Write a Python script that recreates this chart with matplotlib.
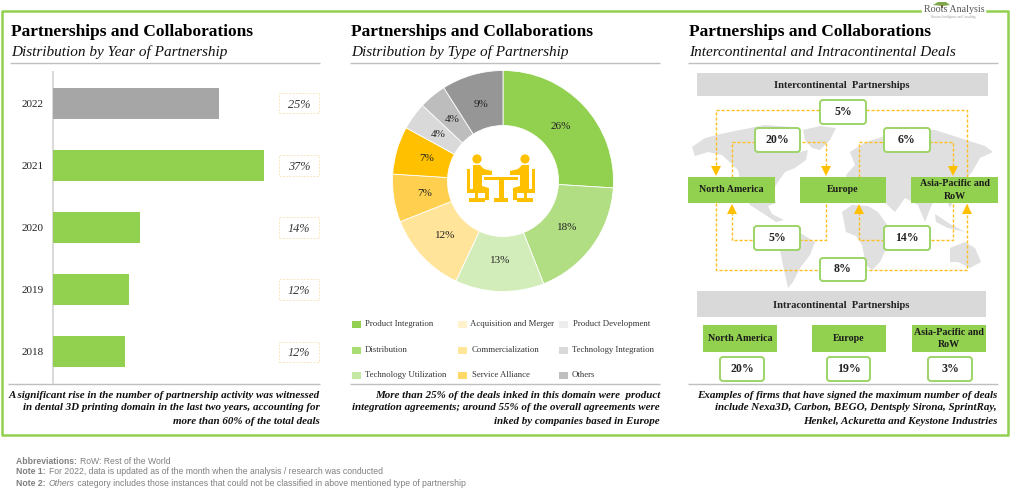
import matplotlib
matplotlib.use('Agg')
import matplotlib.pyplot as plt
from matplotlib.patches import Rectangle, FancyBboxPatch, Polygon, Circle

W, H = 1024, 493
SERIF = 'Liberation Serif'
GREEN = '#92D050'
ORANGE = '#FFC000'

# Bar chart data (bars were not drawn to the same scale as their labels)
years = ['2018', '2019', '2020', '2021', '2022']
year_bars = [12.6, 13.3, 15.3, 37, 29.1]
year_labels = ['12%', '12%', '14%', '37%', '25%']
year_colors = [GREEN, GREEN, GREEN, GREEN, '#A6A6A6']

# Donut data, clockwise from the top
deal_types = ['Product Integration', 'Distribution', 'Technology Utilization',
              'Acquisition and Merger', 'Commercialization', 'Service Alliance',
              'Product Development', 'Technology Integration', 'Others']
deal_shares = [26, 18, 13, 12, 7, 7, 4, 4, 9]
deal_colors = ['#92D050', '#B1DE82', '#D3EDBA', '#FFE49A', '#FFD04F', '#FFC000',
               '#D9D9D9', '#BDBDBD', '#969696']
legend_colors = ['#92D050', '#A9DC72', '#C5E8A4', '#FFF2CC', '#FFE699', '#FFD966',
                 '#EDEDED', '#D9D9D9', '#BFBFBF']

# Deal flow panel
inter_labels = ['5%', '20%', '6%', '5%', '14%', '8%']
regions = ['North America', 'Europe', 'Asia-Pacific and\nRoW']
intra_labels = ['20%', '19%', '3%']

titles = ['Distribution by Year of Partnership', 'Distribution by Type of Partnership',
          'Intercontinental and Intracontinental Deals']
captions = [
    ['A significant rise in the number of partnership activity was witnessed',
     'in dental 3D printing domain in the last two years, accounting for',
     'more than 60% of the total deals'],
    ['More than 25% of the deals inked in this domain were  product',
     'integration agreements; around 55% of the overall agreements were',
     'inked by companies based in Europe'],
    ['Examples of firms that have signed the maximum number of deals',
     'include Nexa3D, Carbon, BEGO, Dentsply Sirona, SprintRay,',
     'Henkel, Ackuretta and Keystone Industries'],
]

fig = plt.figure(figsize=(W / 100, H / 100), dpi=100, facecolor='white')

# Overlay in pixel coordinates for all the slide furniture
bg = fig.add_axes([0, 0, 1, 1])
bg.set_xlim(0, W)
bg.set_ylim(H, 0)
bg.axis('off')


def hline(x0, x1, y, color='#BFBFBF', lw=1.0):
    bg.plot([x0, x1], [y, y], color=color, lw=lw, solid_capstyle='butt')


def rect(x0, y0, x1, y1, color, z=2):
    bg.add_patch(Rectangle((x0, y0), x1 - x0, y1 - y0, fc=color, ec='none', zorder=z))


# Outer green frame with gap for the logo
frame = dict(color=GREEN, lw=1.8)
bg.plot([920, 2, 2, 1008, 1008, 987], [11, 11, 435, 435, 11, 11], **frame)

# Logo
bg.text(954, 10, 'Roots Analysis', family=SERIF, fontsize=7.2, color='#555555',
        ha='center', va='center', zorder=5)
bg.add_patch(Polygon([(933, 5), (938, 2), (946, 2), (950, 5), (943, 6)], fc='#7FA84A', ec='none'))
rect(941, 5, 943, 8, '#7F6A3A')
bg.text(953, 17, 'Business Intelligence and Consulting', family=SERIF, fontsize=2.2,
        color='#999999', ha='center', va='center')

# Panel headings
for x0, x1, sub in zip([11, 351, 689], [320, 660, 998], titles):
    bg.text(x0, 32, 'Partnerships and Collaborations', family=SERIF, weight='bold',
            fontsize=12.5, color='black', ha='left', va='center')
    bg.text(x0, 52, sub, family=SERIF, style='italic', fontsize=10.95,
            color='#111111', ha='left', va='center')
    hline(x0 - 1, x1, 63)
    hline(x0 - 3 if x0 == 11 else x0 - 1, x1, 383.5)

# Captions
for right, lines in zip([320, 660, 997], captions):
    for y, line in zip([395, 408, 421], lines):
        bg.text(right, y, line, family=SERIF, weight='bold', style='italic',
                fontsize=7.9, color='#111111', ha='right', va='center')

# Footer notes, each part starts where the previous one stops
footer = [
    (462, [('Abbreviations: ', 'bold', 'normal'), ('RoW: Rest of the World', 'normal', 'normal')]),
    (472, [('Note 1: ', 'bold', 'normal'),
           ('For 2022, data is updated as of the month when the analysis / research was conducted',
            'normal', 'normal')]),
    (483, [('Note 2: ', 'bold', 'normal'), ('Others', 'normal', 'italic'),
           (' category includes those instances that could not be classified in above mentioned type of partnership',
            'normal', 'normal')]),
]
for y, parts in footer:
    prev = None
    for txt, weight, style in parts:
        kw = dict(family='Liberation Sans', fontsize=6.25, color='#7F7F7F', weight=weight,
                  style=style, va='center')
        if prev is None:
            prev = bg.text(16, y, txt, **kw)
        else:
            prev = bg.annotate(txt, xy=(1, 0.5), xycoords=prev, xytext=(0.5, 0),
                               textcoords='offset points', **kw)

# Bar chart, one % is about 5.7 px
bar_ax = fig.add_axes([53 / W, 1 - 383 / H, 267 / W, 311 / H])
bar_ax.patch.set_alpha(0)
bar_ax.barh(range(len(years)), year_bars, height=0.5, color=year_colors, zorder=3)
bar_ax.set_xlim(0, 267 / 5.7)
bar_ax.set_ylim(-0.5, 4.5)
bar_ax.set_yticks(range(len(years)))
bar_ax.set_yticklabels(years, family=SERIF, fontsize=8.0, color='#222222')
bar_ax.tick_params(axis='y', length=0, pad=6.5)
bar_ax.set_xticks([])
for side in ['top', 'right', 'bottom']:
    bar_ax.spines[side].set_visible(False)
bar_ax.spines['left'].set_color('#D9D9D9')
bar_ax.spines['left'].set_linewidth(1.4)
for i, lab in enumerate(year_labels):
    bar_ax.add_patch(Rectangle((226 / 267, i - 0.165), 40 / 267, 0.33, fc='white', ec='#FBE5C0',
                               ls=(0, (2, 1.5)), lw=0.7, transform=bar_ax.get_yaxis_transform()))
    bar_ax.text(246 / 267, i, lab, family=SERIF, style='italic', fontsize=8.8, color='#333333',
                ha='center', va='center_baseline', transform=bar_ax.get_yaxis_transform())

# Donut
pie_ax = fig.add_axes([(503 - 115) / W, 1 - (181 + 115) / H, 230 / W, 230 / H])
pie_ax.pie(deal_shares, colors=deal_colors, startangle=90, counterclock=False, radius=110.5 / 115,
           wedgeprops=dict(width=55 / 115, edgecolor='white', linewidth=0.6),
           labels=[f'{v}%' for v in deal_shares], labeldistance=None,
           autopct='%d%%', pctdistance=0.72,
           textprops=dict(family=SERIF, fontsize=8.0, color='#222222'))
pie_ax.set_xlim(-1, 1)
pie_ax.set_ylim(-1, 1)

# Icon in the donut hole, two people at a table
bg2 = fig.add_axes([0, 0, 1, 1])
bg2.set_xlim(0, W)
bg2.set_ylim(H, 0)
bg2.axis('off')
bg2.patch.set_alpha(0)
for flip in [False, True]:
    def fx(x):
        return 1002 - x if flip else x
    bg2.add_patch(Circle((fx(477), 159), 4.6, fc=ORANGE, ec='none'))
    person = [(473, 165), (480, 165), (484, 169), (492, 171), (492, 175), (482, 175),
              (482, 186), (489, 188), (489, 200), (485, 200), (485, 192), (473, 192)]
    chair = [(467, 169), (470, 169), (470, 189), (485, 189), (485, 193), (478, 193),
             (478, 198), (485, 198), (485, 202), (469, 202), (469, 198), (475, 198),
             (475, 193), (467, 193)]
    bg2.add_patch(Polygon([(fx(x), y) for x, y in person], fc=ORANGE, ec='none'))
    bg2.add_patch(Polygon([(fx(x), y) for x, y in chair], fc=ORANGE, ec='none'))
bg2.add_patch(Rectangle((484, 177), 34, 3, fc=ORANGE, ec='none'))
bg2.add_patch(Rectangle((498.5, 179), 5, 20, fc=ORANGE, ec='none'))
bg2.add_patch(Rectangle((494, 198), 14, 4, fc=ORANGE, ec='none'))

# Legend
legend_x = [352, 352, 352, 458, 458, 458, 559, 559, 559]
legend_y = [324, 350, 375] * 3
legend_tx = [365, 365, 365, 470, 472, 472, 573, 572, 572]
for name, col, x, tx, y in zip(deal_types, legend_colors, legend_x, legend_tx, legend_y):
    rect(x, y - 3.5, x + 9, y + 3.5, col)
    bg.text(tx, y, name, family=SERIF, fontsize=6.35, color='#333333', ha='left', va='center')

# Rough world map behind the flow diagram
MAP = '#E0E0E0'
land = [
    [(692, 147), (705, 138), (725, 133), (745, 129), (765, 125), (790, 127), (795, 140), (792, 146),
     (800, 152), (808, 150), (806, 160), (795, 168), (785, 172), (778, 182), (772, 192), (776, 203),
     (768, 206), (772, 214), (784, 220), (776, 222), (764, 214), (750, 205), (742, 190), (738, 170),
     (722, 155), (708, 152), (695, 156)],
    [(803, 130), (820, 126), (836, 128), (830, 140), (820, 150), (812, 148), (805, 140)],
    [(777, 232), (790, 228), (802, 234), (815, 242), (810, 255), (800, 268), (793, 282), (788, 288),
     (784, 270), (780, 250)],
    [(842, 212), (852, 205), (868, 206), (878, 212), (888, 226), (896, 228), (888, 245), (880, 262),
     (872, 270), (866, 265), (862, 245), (856, 236), (846, 232)],
    [(848, 190), (846, 175), (855, 165), (850, 152), (866, 142), (885, 136), (910, 130), (935, 130),
     (960, 138), (985, 146), (993, 152), (980, 158), (972, 172), (966, 180), (958, 192), (950, 208),
     (945, 196), (932, 204), (925, 222), (918, 205), (905, 198), (895, 212), (882, 200), (868, 196),
     (856, 196)],
    [(935, 214), (950, 224), (965, 232), (948, 228), (936, 222)],
    [(950, 248), (965, 242), (975, 248), (981, 262), (970, 268), (958, 262), (950, 262)],
]
for poly in land:
    bg.add_patch(Polygon(poly, fc=MAP, ec='none', zorder=1))

# Grey section headers
rect(697, 73, 988, 96, '#D9D9D9')
bg.text(842, 85, 'Intercontinental  Partnerships', family=SERIF, weight='bold', fontsize=7.6,
        color='#222222', ha='center', va='center', zorder=4)
rect(697, 291, 986, 317, '#D9D9D9')
bg.text(841, 305, 'Intracontinental  Partnerships', family=SERIF, weight='bold', fontsize=7.6,
        color='#222222', ha='center', va='center', zorder=4)

# Dashed flow routes
dash = dict(color='#FDBE1E', lw=1.0, ls=(0, (2.2, 1.4)), zorder=3)
routes = [
    [(716, 170), (716, 110), (967, 110), (967, 214)],
    [(716, 203), (716, 270), (967, 270), (967, 214)],
    [(732, 177), (732, 142), (826, 142), (826, 168)],
    [(732, 212), (732, 240), (826, 240), (826, 203)],
    [(859, 177), (859, 142), (953, 142), (953, 168)],
    [(859, 212), (859, 240), (953, 240), (953, 203)],
]
for r in routes:
    bg.plot([p[0] for p in r], [p[1] for p in r], **dash)
for x in [716, 826, 953]:
    bg.add_patch(Polygon([(x - 5, 166), (x + 5, 166), (x, 176)], fc=ORANGE, ec='none', zorder=4))
for x in [732, 859, 967]:
    bg.add_patch(Polygon([(x - 5, 214), (x + 5, 214), (x, 204)], fc=ORANGE, ec='none', zorder=4))


def green_box(x0, y0, x1, y1, text, fs=7.2):
    rect(x0, y0, x1, y1, GREEN, z=5)
    bg.text((x0 + x1) / 2, (y0 + y1) / 2, text, family=SERIF, weight='bold', fontsize=fs,
            color='#1A1A1A', ha='center', va='center', linespacing=1.45, zorder=6)


def value_box(x0, y0, x1, y1, text):
    bg.add_patch(FancyBboxPatch((x0 + 2, y0 + 2), x1 - x0 - 4, y1 - y0 - 4,
                                boxstyle='round,pad=2,rounding_size=3', fc='white',
                                ec='#9CD468', lw=1.4, zorder=5))
    bg.text((x0 + x1) / 2, (y0 + y1) / 2, text, family=SERIF, weight='bold', fontsize=8.6,
            color='#222222', ha='center', va='center', zorder=6)


for (x0, x1), name in zip([(688, 775), (800, 886), (911, 998)], regions):
    green_box(x0, 177, x1, 203, name)
inter_boxes = [(820, 100, 866, 124), (755, 128, 800, 152), (884, 128, 930, 152),
               (754, 226, 800, 250), (884, 226, 930, 250), (820, 258, 866, 281)]
for box, lab in zip(inter_boxes, inter_labels):
    value_box(*box, lab)

for (x0, x1), name in zip([(703, 777), (812, 886), (912, 986)], regions):
    green_box(x0, 325, x1, 352, name)
for (x0, x1), lab in zip([(720, 764), (827, 870), (928, 972)], intra_labels):
    value_box(x0, 357, x1, 381, lab)

fig.savefig('out.png', dpi=100)
